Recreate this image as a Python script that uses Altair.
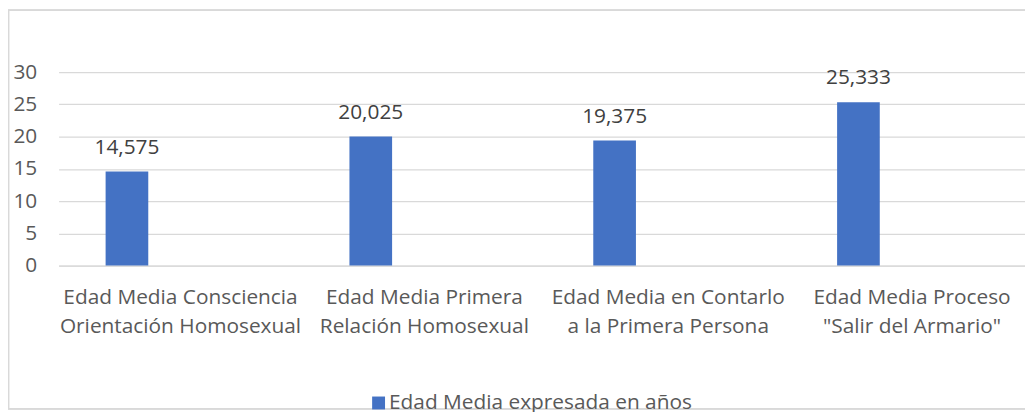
import altair as alt
import pandas as pd

categories = [
    "Edad Media Consciencia\nOrientación Homosexual",
    "Edad Media Primera\nRelación Homosexual",
    "Edad Media en Contarlo\na la Primera Persona",
    "Edad Media Proceso\n\"Salir del Armario\"",
]
values = [14.575, 20.025, 19.375, 25.333]
value_labels = ["14,575", "20,025", "19,375", "25,333"]
series_name = "Edad Media expresada en años"
y_ticks = [0, 5, 10, 15, 20, 25, 30]

df = pd.DataFrame({
    "categoria": categories,
    "valor": values,
    "etiqueta": value_labels,
    "serie": [series_name] * len(categories),
})

FONT = "Open Sans"
FS = 21
W = 974
H = 195

x_enc = alt.X(
    "categoria:N",
    sort=None,
    title=None,
    scale=alt.Scale(range=[0, 983], paddingInner=0, paddingOuter=0),
    axis=alt.Axis(
        labelExpr="split(datum.value, '\\n')",
        labelAngle=0,
        labelFont=FONT,
        labelFontSize=FS,
        labelColor="#595959",
        labelLineHeight=29,
        labelPadding=21,
        labelBaseline="top",
        ticks=False,
        domain=True,
        domainColor="#D9D9D9",
        domainWidth=1.3,
        grid=False,
        labelLimit=400,
        labelOverlap=False,
    ),
)

y_enc = alt.Y(
    "valor:Q",
    title=None,
    scale=alt.Scale(domain=[0, 30], nice=False),
    axis=alt.Axis(
        values=y_ticks,
        labelFont=FONT,
        labelFontSize=FS,
        labelColor="#595959",
        labelPadding=22,
        labelOverlap=False,
        ticks=False,
        domain=False,
        grid=True,
        gridColor="#D9D9D9",
        gridWidth=1.3,
    ),
)

bars = alt.Chart(df).mark_bar(width=43, xOffset=-54).encode(
    x=x_enc,
    y=y_enc,
    color=alt.Color(
        "serie:N",
        scale=alt.Scale(range=["#4472C4"]),
        legend=alt.Legend(
            title=None,
            orient="none",
            legendX=312,
            legendY=323,
            symbolType="square",
            symbolSize=169,
            symbolStrokeWidth=0,
            labelFont=FONT,
            labelFontSize=FS,
            labelColor="#595959",
            labelOffset=0,
            labelLimit=500,
            padding=0,
        ),
    ),
)

texts = alt.Chart(df).mark_text(
    dx=-54, dy=-18, baseline="alphabetic", align="center",
    font=FONT, fontSize=FS, color="#404040",
).encode(
    x=x_enc,
    y=y_enc,
    text="etiqueta:N",
)

frame = alt.Chart(df).mark_rect(
    fill=None, stroke="#D9D9D9", strokeWidth=1.3, clip=False
).encode(
    x=alt.value(-50.5),
    x2=alt.value(1100),
    y=alt.value(-62.5),
    y2=alt.value(339.5),
)

chart = alt.layer(frame, bars, texts).properties(
    width=W,
    height=H,
    autosize=alt.AutoSizeParams(type="none"),
    padding={"left": 51, "top": 63, "right": 0, "bottom": 146},
).configure_view(stroke=None)

chart.save("out.html", embed_options={"renderer": "svg", "actions": False})
